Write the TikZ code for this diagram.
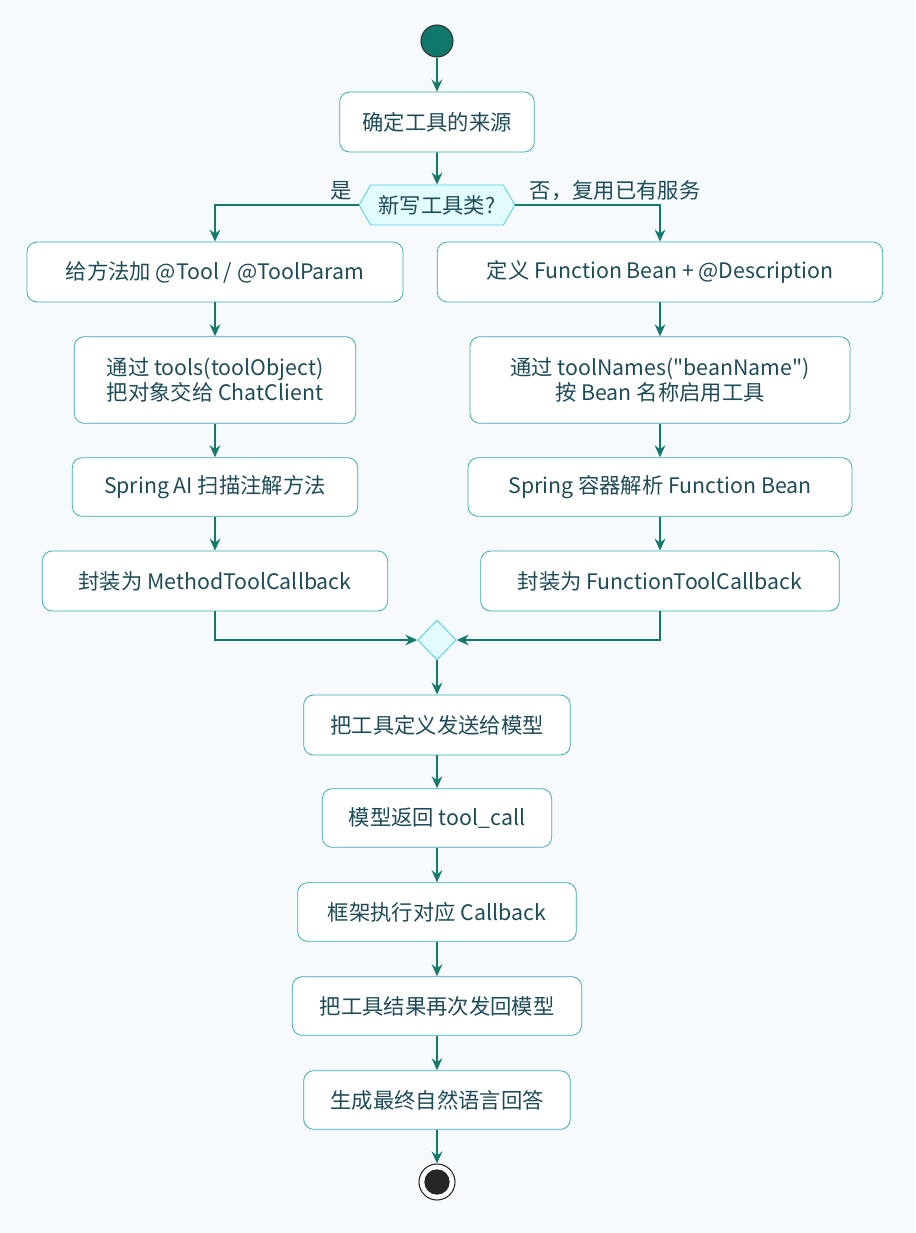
\documentclass[tikz,border=0pt]{standalone}
\usepackage{fontspec}
\setmainfont{Noto Sans CJK SC}
\usetikzlibrary{arrows.meta,shapes.symbols,shapes.geometric}
\definecolor{bgc}{HTML}{F6FAFD}
\definecolor{edgec}{HTML}{3AA9B8}
\definecolor{flowc}{HTML}{127A6A}
\definecolor{textc}{HTML}{1E4B58}
\definecolor{startc}{HTML}{10786A}
\definecolor{diac}{HTML}{E2FBFD}
\definecolor{diae}{HTML}{4CCFE0}
\tikzset{
  box/.style={draw=edgec, fill=white, rounded corners=7.5pt, line width=0.6pt,
    text=textc, align=center, inner sep=0pt, font=\fontsize{16}{19}\selectfont},
  flow/.style={draw=flowc, line width=1.3pt, -{Stealth[length=9pt,width=8pt,inset=3pt]}},
  lbl/.style={text=textc, font=\fontsize{16}{19}\selectfont, inner sep=0pt}
}
\begin{document}
\begin{tikzpicture}[x=0.75pt,y=-0.75pt]
\fill[bgc] (0,0) rectangle (915,1233);
\useasboundingbox (0,0) rectangle (915,1233);
% start and choice
\node (start) [circle, fill=startc, draw=black!80, line width=0.8pt, minimum size=24pt, inner sep=0pt] at (437,41) {};
\node (src) [box, minimum width=146pt, minimum height=45pt] at (437,122) {确定工具的来源};
\node (ask) [signal, signal to=west and east, signal pointer angle=120, draw=diae, fill=diac,
  line width=0.6pt, text=textc, font=\fontsize{16}{19}\selectfont, inner xsep=6pt,
  minimum height=30pt] at (437,205) {新写工具类?};
\node (yes) [lbl] at (341,191) {是};
\node (no) [lbl] at (615,191) {否，复用已有服务};
% left branch
\node (l1) [box, minimum width=282pt, minimum height=45pt] at (215,272) {给方法加 @Tool / @ToolParam};
\node (l2) [box, minimum width=211pt, minimum height=65pt] at (215,380) {通过 tools(toolObject)\\把对象交给 ChatClient};
\node (l3) [box, minimum width=214pt, minimum height=44pt] at (215,487) {Spring AI 扫描注解方法};
\node (l4) [box, minimum width=259pt, minimum height=45pt] at (215,581) {封装为 MethodToolCallback};
% right branch
\node (r1) [box, minimum width=334pt, minimum height=45pt] at (660,272) {定义 Function Bean + @Description};
\node (r2) [box, minimum width=285pt, minimum height=65pt] at (660,380) {通过 toolNames(\textquotedbl beanName\textquotedbl)\\按 Bean 名称启用工具};
\node (r3) [box, minimum width=288pt, minimum height=44pt] at (660,487) {Spring 容器解析 Function Bean};
\node (r4) [box, minimum width=269pt, minimum height=45pt] at (660,581) {封装为 FunctionToolCallback};
% merge and tail
\node (join) [diamond, draw=diae, fill=diac, line width=0.6pt, minimum width=29pt, minimum height=30pt, inner sep=0pt] at (437,640) {};
\node (m1) [box, minimum width=200pt, minimum height=45pt] at (437,725) {把工具定义发送给模型};
\node (m2) [box, minimum width=172pt, minimum height=44pt] at (437,818) {模型返回 tool\_call};
\node (m3) [box, minimum width=209pt, minimum height=44pt] at (437,912) {框架执行对应 Callback};
\node (m4) [box, minimum width=217pt, minimum height=44pt] at (437,1006) {把工具结果再次发回模型};
\node (m5) [box, minimum width=200pt, minimum height=44pt] at (437,1100) {生成最终自然语言回答};
\node (stop) [circle, draw=black!85, fill=white, line width=0.8pt, minimum size=27pt, inner sep=0pt] at (437,1182) {};
\fill[black!85] (stop.center) circle (9.5pt);
% connectors
\draw[flow] (start) -- (src);
\draw[flow] (src) -- (ask);
\draw[flow] (ask.west) -| (l1.north);
\draw[flow] (ask.east) -| (r1.north);
\draw[flow] (l1) -- (l2);
\draw[flow] (l2) -- (l3);
\draw[flow] (l3) -- (l4);
\draw[flow] (r1) -- (r2);
\draw[flow] (r2) -- (r3);
\draw[flow] (r3) -- (r4);
\draw[flow] (l4.south) |- (join.west);
\draw[flow] (r4.south) |- (join.east);
\draw[flow] (join) -- (m1);
\draw[flow] (m1) -- (m2);
\draw[flow] (m2) -- (m3);
\draw[flow] (m3) -- (m4);
\draw[flow] (m4) -- (m5);
\draw[flow] (m5) -- (stop);
\end{tikzpicture}
\end{document}
